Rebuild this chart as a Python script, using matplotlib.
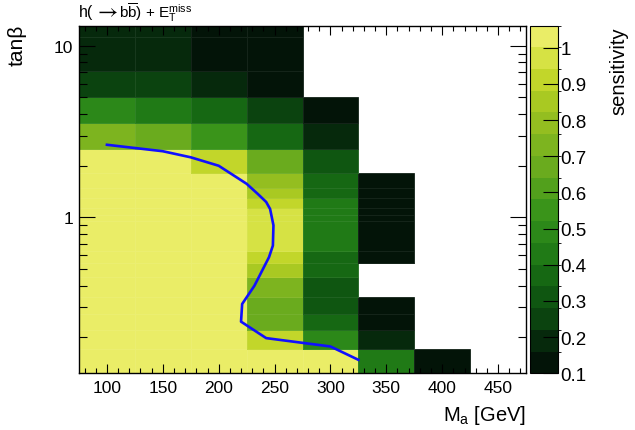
import matplotlib
matplotlib.use("Agg")
import matplotlib.pyplot as plt
import numpy as np
from matplotlib.colors import ListedColormap, BoundaryNorm
from matplotlib.ticker import FixedLocator, NullFormatter

plt.rcParams['font.family'] = ['Liberation Sans', 'DejaVu Sans']
plt.rcParams['mathtext.fontset'] = 'custom'
plt.rcParams['mathtext.rm'] = 'Liberation Sans'
plt.rcParams['mathtext.it'] = 'Liberation Sans:italic'

# bin edges of the scan
ma_edges = [75, 125, 175, 225, 275, 325, 375, 425, 475]
tanb_edges = [0.1235, 0.171, 0.221, 0.274, 0.345, 0.448, 0.543, 0.64, 0.95,
              1.038, 1.136, 1.30, 1.486, 1.81, 2.51, 3.54, 5.02, 7.12, 11.24, 13.13]

# sensitivity per tanb row (bottom to top), columns Ma = 100 ... 450
nan = np.nan
sens = [
    [1.03, 1.03, 1.03, 1.03, 1.03, 0.46, 0.13, nan],
    [1.03, 1.03, 1.03, 0.91, 0.49, 0.19, nan, nan],
    [1.03, 1.03, 1.03, 0.67, 0.37, 0.13, nan, nan],
    [1.03, 1.03, 1.03, 0.67, 0.31, 0.13, nan, nan],
    [1.03, 1.03, 1.03, 0.73, 0.31, nan, nan, nan],
    [1.03, 1.03, 1.03, 0.85, 0.35, nan, nan, nan],
    [1.03, 1.03, 1.03, 0.91, 0.37, 0.13, nan, nan],
    [1.03, 1.03, 1.03, 0.97, 0.43, 0.13, nan, nan],
    [1.03, 1.03, 1.03, 0.97, 0.43, 0.13, nan, nan],
    [1.03, 1.03, 1.03, 0.97, 0.43, 0.13, nan, nan],
    [1.03, 1.03, 1.03, 0.91, 0.43, 0.13, nan, nan],
    [1.03, 1.03, 1.03, 0.85, 0.37, 0.13, nan, nan],
    [1.03, 1.03, 1.03, 0.79, 0.37, 0.13, nan, nan],
    [1.03, 1.03, 0.91, 0.67, 0.31, nan, nan, nan],
    [0.73, 0.67, 0.55, 0.37, 0.19, nan, nan, nan],
    [0.52, 0.43, 0.40, 0.25, 0.13, nan, nan, nan],
    [0.25, 0.25, 0.19, 0.13, nan, nan, nan, nan],
    [0.19, 0.19, 0.13, 0.13, nan, nan, nan, nan],
    [0.19, 0.19, 0.13, 0.13, nan, nan, nan, nan],
]

# contour line
line_ma = [100, 150, 175, 200, 225, 235, 242.5, 246, 249, 248.5, 245, 232, 221, 220, 242.5, 300, 325]
line_tanb = [2.65, 2.43, 2.24, 2.0, 1.57, 1.37, 1.23, 1.12, 0.9, 0.685, 0.586, 0.40,
             0.313, 0.247, 0.198, 0.177, 0.148]

palette = ['#031408', '#06290c', '#0b430f', '#0f5611', '#166813', '#207a16',
           '#2c8819', '#3a941a', '#52a01c', '#6aab1e', '#7db41f', '#94be20',
           '#a9c922', '#c2d62a', '#d6e244', '#eaed67']
cmap = ListedColormap(palette)
levels = np.linspace(0.1, 1.0614, 17)
norm = BoundaryNorm(levels, cmap.N)

W, H = 635, 431
fig = plt.figure(figsize=(W / 100, H / 100), dpi=100)
ax = fig.add_axes([79 / W, 1 - 374.3 / H, (526 - 79) / W, (374.3 - 26.5) / H])
cax = fig.add_axes([530 / W, 1 - 374.3 / H, (557.7 - 530) / W, (374.3 - 26.5) / H])

z = np.ma.masked_invalid(np.array(sens))
mesh = ax.pcolormesh(ma_edges, tanb_edges, z, cmap=cmap, norm=norm,
                     edgecolors=(1, 1, 1, 0.07), linewidth=0.5)
ax.plot(line_ma, line_tanb, color='#1010ff', lw=1.9)

ax.set_yscale('log')
ax.set_xlim(75, 475)
ax.set_ylim(tanb_edges[0], tanb_edges[-1])

ax.xaxis.set_major_locator(FixedLocator([100, 150, 200, 250, 300, 350, 400, 450]))
ax.xaxis.set_minor_locator(FixedLocator(np.arange(80, 475, 10)))
ax.yaxis.set_major_locator(FixedLocator([1, 10]))
ax.set_yticklabels(['1', '10'])
ymin = [v * d for d in [0.1, 1, 10] for v in range(2, 10)]
ax.yaxis.set_minor_locator(FixedLocator(ymin))
ax.yaxis.set_minor_formatter(NullFormatter())

ax.tick_params(which='both', direction='in', top=True, right=True, labelsize=12.5, width=0.8)
ax.tick_params(axis='x', which='major', length=6.5, pad=5)
ax.tick_params(axis='x', which='minor', length=3.3)
ax.tick_params(axis='y', which='major', length=11.5, pad=4)
ax.tick_params(axis='y', which='minor', length=5.8)
for s in ax.spines.values():
    s.set_linewidth(1.0)

cb = fig.colorbar(mesh, cax=cax, ticks=[0.1, 0.2, 0.3, 0.4, 0.5, 0.6, 0.7, 0.8, 0.9, 1.0])
cb.ax.set_yticklabels(['0.1', '0.2', '0.3', '0.4', '0.5', '0.6', '0.7', '0.8', '0.9', '1'])
cax.tick_params(direction='in', length=11, width=0.8, labelsize=13.5, pad=2)
cb.outline.set_linewidth(0.8)

# title built from pieces so the arrow can come from a thin math font
ty = 1 - 17.5 / H
fig.text(79 / W, ty, 'h(', ha='left', va='baseline', fontsize=11.5)
fig.text(93.5 / W, ty, r'$\rightarrow$', math_fontfamily='stixsans', ha='left', va='baseline', fontsize=15.8)
fig.text(119 / W, ty, r'b$\overline{\mathrm{b}}$) + E$_{\mathrm{T}}^{\mathrm{miss}}$',
         ha='left', va='baseline', fontsize=11)
fig.text(526 / W, 1 - 421 / H, r'M$_{\mathrm{a}}$ [GeV]', ha='right', va='baseline', fontsize=14.5)
fig.text(17 / W, 1 - 25 / H, 'tanβ', rotation=90, ha='center', va='top', fontsize=15)
fig.text(619 / W, 1 - 27 / H, 'sensitivity', rotation=90, ha='center', va='top', fontsize=14.5)

fig.savefig('out.png', dpi=100)
